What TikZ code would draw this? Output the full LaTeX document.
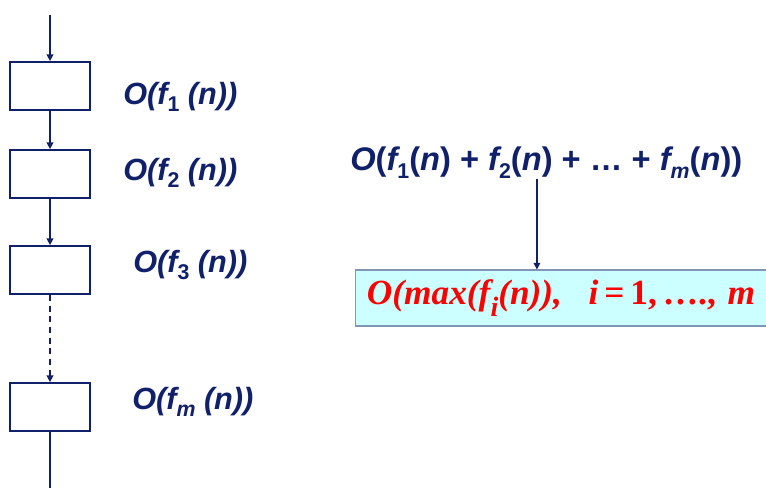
\documentclass[tikz,border=0pt]{standalone}
\usepackage{fontspec}
\setmainfont{Liberation Sans}
\newfontfamily\timesfont{Liberation Serif}
\usetikzlibrary{arrows.meta,positioning}
\definecolor{navy}{HTML}{10206B}
\definecolor{maxred}{HTML}{FF0000}
\definecolor{maxfill}{HTML}{CCFFFF}
\definecolor{maxline}{HTML}{8096B4}
\newcommand{\lo}[3][16]{\raisebox{#2}{\fontsize{#1}{#1}\selectfont #3}}
\newcommand{\up}[1]{{\upshape #1}}
\tikzset{
  stagebox/.style={draw=navy, line width=1.3pt, minimum width=60pt,
    minimum height=36pt, inner sep=0pt},
  costlabel/.style={anchor=west, text=navy, inner sep=0pt,
    font=\fontsize{23}{27}\selectfont\bfseries\itshape},
  sumlabel/.style={costlabel, font=\fontsize{24.5}{28}\selectfont\bfseries\itshape},
  maxbox/.style={draw=maxline, fill=maxfill, line width=0.8pt, anchor=west,
    text width=330pt, inner xsep=8.5pt, minimum height=42pt, align=left,
    text=maxred, font=\timesfont\fontsize{26.5}{30}\selectfont\bfseries\itshape},
  arr/.style={-{Triangle[length=5pt,width=5pt]}, line width=1.1pt, draw=navy}
}
\begin{document}
\begin{tikzpicture}[x=0.75pt,y=-0.75pt]
  \useasboundingbox (0,0) rectangle (766,488);
  % chain of stages
  \node[stagebox] (box1) at (50,86) {};
  \node[stagebox] (box2) at (50,174) {};
  \node[stagebox] (box3) at (50,270) {};
  \node[stagebox] (boxm) at (50,407) {};
  \coordinate (start) at (50,15);
  \coordinate (finish) at (50,488);
  \draw[arr] (start) -- (box1);
  \draw[arr] (box1) -- (box2);
  \draw[arr] (box2) -- (box3);
  \draw[arr, dash pattern=on 4.5pt off 3.5pt] (box3) -- (boxm);
  \draw[navy, line width=1.1pt] (boxm) -- (finish);
  % costs
  \node[costlabel] (lab1) at (123,97) {O(f\lo{-0.45ex}{\up{1}} (n))};
  \node[costlabel] (lab2) at (123,173) {O(f\lo{-0.45ex}{\up{2}} (n))};
  \node[costlabel] (lab3) at (133,265) {O(f\lo{-0.45ex}{\up{3}} (n))};
  \node[costlabel] (labm) at (132,402) {O(f\lo{-0.45ex}{m} (n))};
  % total
  \node[sumlabel] (sum) at (350,163)
    {O\up{(}f\lo{-0.45ex}{\up{1}}\up{(}n\up{) + }f\lo{-0.45ex}{\up{2}}\up{(}n\up{) + … + }f\lo{-0.45ex}{m}\up{(}n\up{))}};
  \node[maxbox] (maxbox) at (355,298)
    {O(max(f\lo[21]{-0.7ex}{i}(n)),\hspace{20pt}i\,\up{=\,1,\,….,} m};
  \draw[arr] ([xshift=-7pt]sum.south) -- ([xshift=-7pt]sum.south |- maxbox.north);
\end{tikzpicture}
\end{document}
